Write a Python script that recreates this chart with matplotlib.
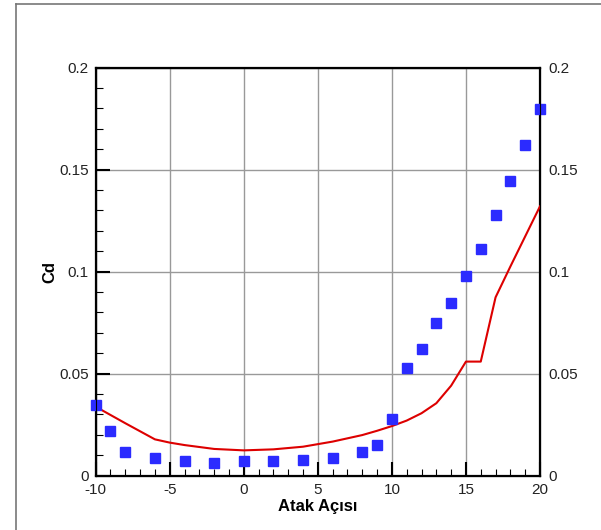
import matplotlib
matplotlib.use('Agg')
import matplotlib.pyplot as plt
from matplotlib.ticker import MultipleLocator, FuncFormatter
from matplotlib.lines import Line2D

plt.rcParams['font.family'] = ['Liberation Sans', 'DejaVu Sans']
plt.rcParams['axes.unicode_minus'] = False

# experiment (blue squares)
exp_alpha = [-10, -9, -8, -6, -4, -2, 0, 2, 4, 6, 8, 9, 10,
             11, 12, 13, 14, 15, 16, 17, 18, 19, 20]
exp_cd = [0.0346, 0.022, 0.0116, 0.0085, 0.0073, 0.0064, 0.0071, 0.0073, 0.0077, 0.0087, 0.0114, 0.015, 0.0278,
          0.0529, 0.0621, 0.0747, 0.0848, 0.098, 0.1112, 0.1276, 0.1442, 0.162, 0.1798]

# computed (red line)
cfd_alpha = [-10, -8, -6, -5, -4, -2, 0, 2, 4, 6, 8, 9, 10, 11, 12, 13, 14, 15, 16, 17, 18, 20]
cfd_cd = [0.0338, 0.0257, 0.0178, 0.0162, 0.015, 0.0131, 0.0124, 0.0129, 0.0142, 0.0167, 0.0199, 0.022, 0.0243,
          0.027, 0.0306, 0.0355, 0.0441, 0.0559, 0.0559, 0.0874, 0.1025, 0.132]

fig = plt.figure(figsize=(6.01, 5.30), dpi=100)
ax = fig.add_axes([0.1592, 0.1025, 0.8985 - 0.1592, 0.8726 - 0.1025])

ax.plot(cfd_alpha, cfd_cd, color='#dd0000', lw=1.5, zorder=3)
ax.plot(exp_alpha, exp_cd, ls='none', marker='s', ms=7.5, color='#2b2bff', mec='#2b2bff', zorder=4, clip_on=False)

ax.set_xlim(-10, 20)
ax.set_ylim(0, 0.2)
ax.xaxis.set_major_locator(MultipleLocator(5))
ax.xaxis.set_minor_locator(MultipleLocator(1))
ax.yaxis.set_major_locator(MultipleLocator(0.05))
ax.yaxis.set_minor_locator(MultipleLocator(0.01))
fmt = FuncFormatter(lambda v, p: ('%g' % round(v, 4)))
ax.yaxis.set_major_formatter(fmt)
ax.grid(True, which='major', color='#999999', lw=1.0)
ax.set_axisbelow(True)

ax.tick_params(which='both', direction='in', top=False, right=False, color='black', labelsize=11, labelcolor='#222222')
ax.tick_params(which='major', length=10, width=1.5)
ax.tick_params(which='minor', length=5, width=0.8)
ax.tick_params(axis='x', pad=5)
ax.tick_params(axis='y', pad=5)
for s in ax.spines.values():
    s.set_linewidth(1.6)

ax2 = ax.twinx()
ax2.set_ylim(ax.get_ylim())
ax2.yaxis.set_major_locator(MultipleLocator(0.05))
ax2.yaxis.set_major_formatter(fmt)
ax2.tick_params(length=0, labelsize=11, labelcolor='#222222', pad=6)

ax.set_xlabel('Atak Açısı', fontsize=12, fontweight='bold', labelpad=2)
ax.set_ylabel('Cd', fontsize=12, fontweight='bold', labelpad=1)

# outer frame (left and top edges)
fig.add_artist(Line2D([16 / 601, 16 / 601], [0, 1 - 4 / 530], color='#777777', lw=1.2))
fig.add_artist(Line2D([16 / 601, 1], [1 - 4 / 530, 1 - 4 / 530], color='#777777', lw=1.2))

fig.savefig('out.png', dpi=100)
